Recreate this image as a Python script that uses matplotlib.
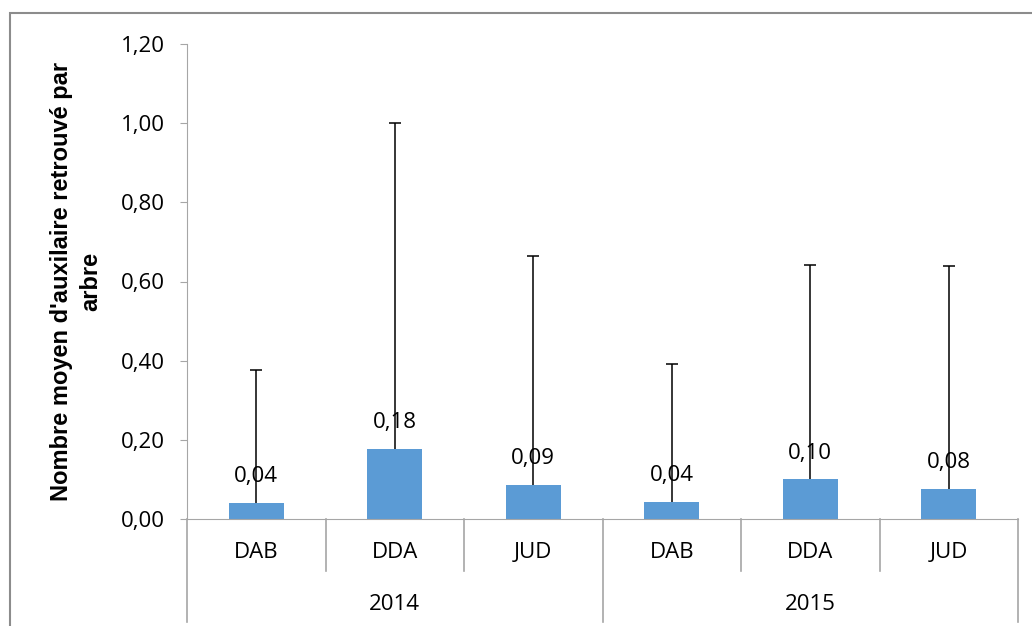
import numpy as np
import matplotlib
matplotlib.use('Agg')
import matplotlib.pyplot as plt
from matplotlib.patches import Rectangle
from matplotlib.lines import Line2D

# Data
years = ['2014', '2015']
sites = ['DAB', 'DDA', 'JUD']
means = [0.040, 0.177, 0.086, 0.043, 0.100, 0.076]
err_up = [0.336, 0.823, 0.578, 0.349, 0.542, 0.563]
yticks = [0.0, 0.2, 0.4, 0.6, 0.8, 1.0, 1.2]

BAR_COLOR = '#5B9BD5'
AXIS_GRAY = '#A6A6A6'
TICK_FONT = 'Open Sans'
FS = 16
W, H = 1032, 626

fig = plt.figure(figsize=(W / 100, H / 100), dpi=100)
ax = fig.add_axes([187 / W, 1 - 519 / H, (1018 - 187) / W, (519 - 44) / H])
ax_h = 519 - 44  # axes height in px

n = len(years) * len(sites)
x = np.arange(n)
ax.bar(x, means, width=0.4, color=BAR_COLOR, zorder=2)
_, caps, _ = ax.errorbar(x, means, yerr=[np.zeros(n), err_up], fmt='none',
                         ecolor='black', elinewidth=1.1, capsize=4.5,
                         capthick=1.1, zorder=3)
caps[0].set_visible(False)  # only plus error bars

# data labels above bars
for xi, m in zip(x, means):
    ax.annotate(f'{m:.2f}'.replace('.', ','), (xi, m), xytext=(0, 19),
                textcoords='offset points', ha='center', va='center',
                fontsize=FS, family=TICK_FONT, zorder=4)

ax.set_xlim(-0.5, n - 0.5)
ax.set_ylim(0, 1.2)
ax.set_yticks(yticks)
ax.set_yticklabels([f'{t:.2f}'.replace('.', ',') for t in yticks],
                   fontsize=FS, family=TICK_FONT)
ax.tick_params(axis='y', length=5, color=AXIS_GRAY, pad=11)
ax.set_xticks([])

for side in ['top', 'right']:
    ax.spines[side].set_visible(False)
ax.spines['left'].set_color(AXIS_GRAY)
ax.spines['bottom'].set_color(AXIS_GRAY)

# two level category axis
trans = ax.get_xaxis_transform()
y_site = -(553 - 519) / ax_h
y_year = -(605 - 519) / ax_h
for i in range(n):
    ax.text(x[i], y_site, sites[i % len(sites)], transform=trans, ha='center',
            va='center', fontsize=FS, family=TICK_FONT)
for j, yr in enumerate(years):
    ax.text(j * len(sites) + (len(sites) - 1) / 2, y_year, yr, transform=trans,
            ha='center', va='center', fontsize=FS, family=TICK_FONT)

short_drop = -(571 - 519) / ax_h
long_drop = -(622 - 519) / ax_h
for k in range(n + 1):
    xb = k - 0.5
    bottom = long_drop if k % len(sites) == 0 else short_drop
    ax.add_line(Line2D([xb, xb], [0, bottom], transform=trans, color=AXIS_GRAY,
                       lw=1.2, clip_on=False))

# y label
fig.text(76 / W, 1 - 281 / H, "Nombre moyen d'auxilaire retrouvé par\narbre",
         rotation=90, ha='center', va='center', fontsize=17,
         fontweight='bold', family='Liberation Sans', linespacing=1.35)

# chart frame (cropped on right and bottom)
fig.patches.append(Rectangle((10 / W, -0.1), 1.2, 1 - 13 / H + 0.1,
                             transform=fig.transFigure, fill=False,
                             edgecolor='#8C8C8C', lw=1.5))

fig.savefig('out.png', dpi=100)
